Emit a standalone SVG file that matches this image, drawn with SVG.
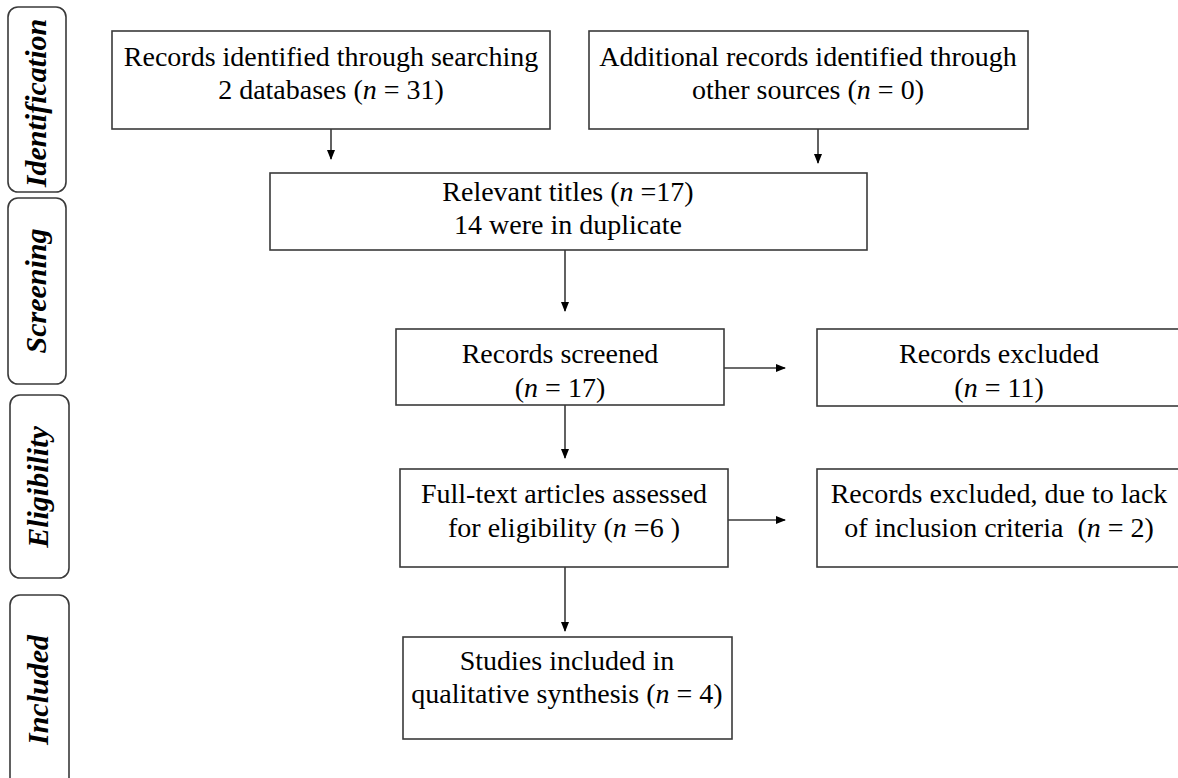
<svg xmlns="http://www.w3.org/2000/svg" width="1178" height="778" viewBox="0 0 1178 778">
<style>
.box{fill:#fff;stroke:#3a3a3a;stroke-width:1.6}
.side{fill:#fff;stroke:#3a3a3a;stroke-width:1.6}
.t{font-family:"Liberation Serif","Times New Roman",serif;font-size:28px;fill:#000;text-anchor:middle}
.s{font-family:"Liberation Serif","Times New Roman",serif;font-size:30px;font-weight:bold;font-style:italic;fill:#000;text-anchor:middle}
.i{font-style:italic}
.c{stroke:#3a3a3a;stroke-width:1.6;fill:none}
</style>
<defs>
<marker id="ah" markerWidth="10" markerHeight="10" refX="9" refY="5" orient="auto" markerUnits="userSpaceOnUse">
<path d="M0,1 L10,5 L0,9 Z" fill="#000"/>
</marker>
</defs>
<rect width="1178" height="778" fill="#fff"/>
<g id="side-identification">
<rect class="side" x="8" y="7" width="58" height="185" rx="10"/>
<text class="s" transform="translate(46,103) rotate(-90)">Identification</text>
</g>
<g id="side-screening">
<rect class="side" x="8" y="198" width="58" height="186" rx="10"/>
<text class="s" transform="translate(46,291) rotate(-90)">Screening</text>
</g>
<g id="side-eligibility">
<rect class="side" x="10" y="395" width="59" height="183" rx="10"/>
<text class="s" transform="translate(48,487) rotate(-90)">Eligibility</text>
</g>
<g id="side-included">
<rect class="side" x="10" y="595" width="59" height="200" rx="10"/>
<text class="s" transform="translate(48,690) rotate(-90)">Included</text>
</g>
<g id="n1">
<rect class="box" x="112" y="31" width="438" height="98"/>
<text class="t" x="331" y="66">Records identified through searching</text>
<text class="t" x="331" y="99">2 databases (<tspan class="i">n</tspan> = 31)</text>
</g>
<g id="n2">
<rect class="box" x="589" y="31" width="439" height="98"/>
<text class="t" x="808" y="66">Additional records identified through</text>
<text class="t" x="808" y="99">other sources (<tspan class="i">n</tspan> = 0)</text>
</g>
<g id="n3">
<rect class="box" x="270" y="173" width="597" height="77"/>
<text class="t" x="568" y="201">Relevant titles (<tspan class="i">n</tspan> =17)</text>
<text class="t" x="568" y="234">14 were in duplicate</text>
</g>
<g id="n4">
<rect class="box" x="396" y="329" width="328" height="76"/>
<text class="t" x="560" y="363">Records screened</text>
<text class="t" x="560" y="397">(<tspan class="i">n</tspan> = 17)</text>
</g>
<g id="n5">
<rect class="box" x="817" y="329" width="380" height="77"/>
<text class="t" x="999" y="363">Records excluded</text>
<text class="t" x="999" y="397">(<tspan class="i">n</tspan> = 11)</text>
</g>
<g id="n6">
<rect class="box" x="400" y="469" width="328" height="98"/>
<text class="t" x="564" y="503">Full-text articles assessed</text>
<text class="t" x="564" y="537">for eligibility (<tspan class="i">n</tspan> =6 )</text>
</g>
<g id="n7">
<rect class="box" x="817" y="469" width="380" height="98"/>
<text class="t" x="999" y="503">Records excluded, due to lack</text>
<text class="t" x="999" y="537" style="white-space:pre">of inclusion criteria  (<tspan class="i">n</tspan> = 2)</text>
</g>
<g id="n8">
<rect class="box" x="403" y="637" width="329" height="102"/>
<text class="t" x="567" y="670">Studies included in</text>
<text class="t" x="567" y="703">qualitative synthesis (<tspan class="i">n</tspan> = 4)</text>
</g>
<g id="connectors">
<line class="c" x1="331" y1="129" x2="331" y2="159" marker-end="url(#ah)"/>
<line class="c" x1="818" y1="129" x2="818" y2="163" marker-end="url(#ah)"/>
<line class="c" x1="565" y1="250" x2="565" y2="311" marker-end="url(#ah)"/>
<line class="c" x1="724" y1="368" x2="785" y2="368" marker-end="url(#ah)"/>
<line class="c" x1="565" y1="405" x2="565" y2="458" marker-end="url(#ah)"/>
<line class="c" x1="728" y1="520" x2="785" y2="520" marker-end="url(#ah)"/>
<line class="c" x1="565" y1="567" x2="565" y2="631" marker-end="url(#ah)"/>
</g>
</svg>
